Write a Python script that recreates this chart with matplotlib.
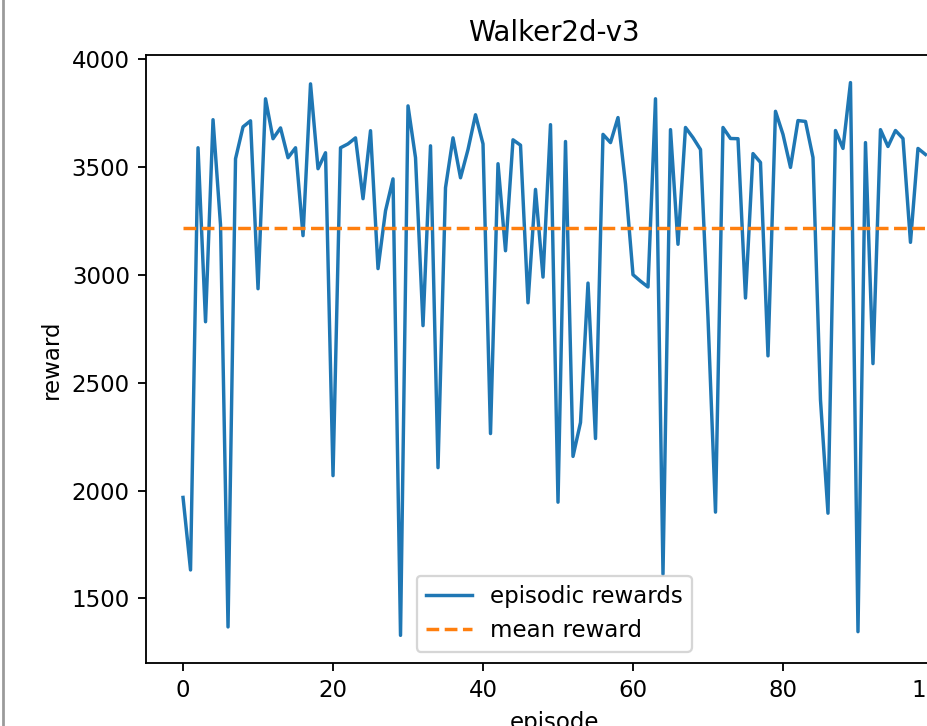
"""
    Walker2d-v3: episodic rewards of a trained agent
"""

import numpy as np
import matplotlib.pyplot as plt
from matplotlib.lines import Line2D

# Rewards per episode
episodes = np.arange(100)
rewards = [
    1968, 1632, 3588, 2782, 3718, 3230, 1368, 3537, 3685, 3713,
    2935, 3815, 3630, 3680, 3542, 3588, 3181, 3884, 3491, 3565,
    2069, 3588, 3606, 3634, 3352, 3667, 3028, 3296, 3444, 1329,
    3782, 3542, 2764, 3597, 2106, 3403, 3634, 3449, 3580, 3741,
    3606, 2264, 3514, 3111, 3625, 3600, 2870, 3395, 2989, 3695,
    1946, 3617, 2158, 2315, 2961, 2241, 3650, 3612, 3728, 3420,
    3000, 2970, 2943, 3815, 1613, 3672, 3141, 3682, 3635, 3580,
    2800, 1900, 3682, 3631, 3630, 2892, 3561, 3520, 2624, 3757,
    3650, 3497, 3714, 3710, 3543, 2420, 1895, 3668, 3585, 3890,
    1346, 3612, 2588, 3672, 3594, 3668, 3631, 3150, 3585, 3557,
]
mean_reward = 3215


if __name__ == '__main__':

    dpi = 165
    fig = plt.figure(figsize=(927 / dpi, 726 / dpi), dpi=dpi)

    # the screenshot cuts the figure on the right, so the axes run past the edge
    ax = fig.add_axes([0.1574, 0.0868, 0.881, 0.8375])

    ax.plot(episodes, rewards, label="episodic rewards")
    ax.plot(episodes, [mean_reward] * len(episodes), "--", label="mean reward")

    ax.set_title("Walker2d-v3")
    ax.set_xlabel("episode")
    ax.set_ylabel("reward")
    ax.legend(loc="lower center")

    # grey border of the screenshot on the left
    fig.add_artist(Line2D([0.003, 0.003], [0, 1], color="#9a9a9a", lw=1.2,
                          transform=fig.transFigure))

    fig.savefig("out.png", dpi=dpi)
